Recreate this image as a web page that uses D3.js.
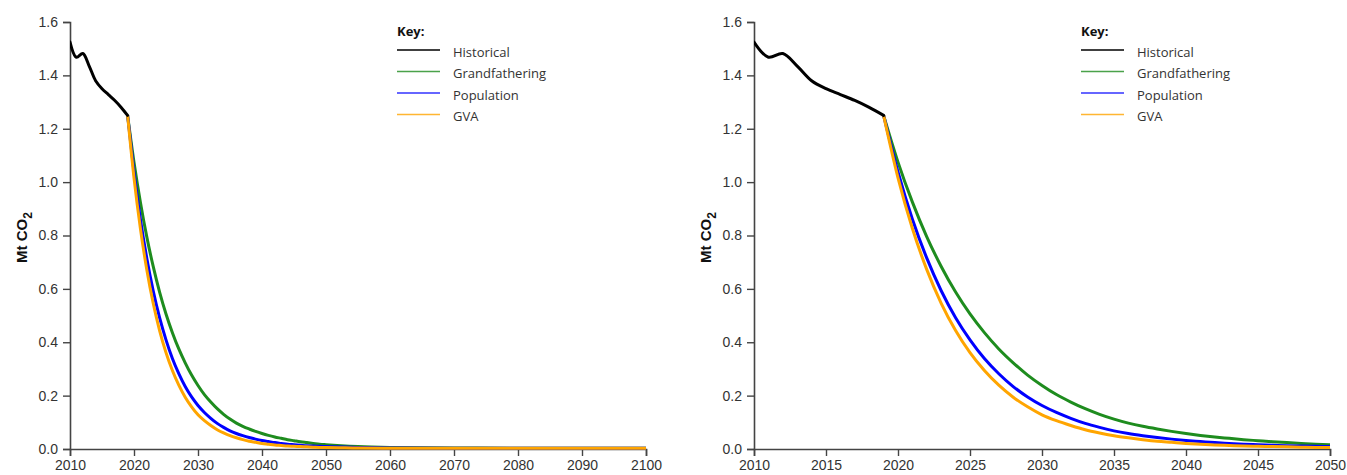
<!DOCTYPE html>
<html>
<head>
<meta charset="utf-8">
<script src="https://cdn.jsdelivr.net/npm/d3@7/dist/d3.min.js"></script>
<style>
  html, body { margin: 0; padding: 0; background: #fff; }
  svg { display: block; }
</style>
</head>
<body>
<svg id="chart" width="1347" height="475"></svg>
<script>
// ---- Data ----
const histYears = [2010, 2011, 2012, 2013, 2014, 2015, 2016, 2017, 2018, 2019];
const histValues = [1.525, 1.468, 1.482, 1.435, 1.38, 1.35, 1.328, 1.306, 1.28, 1.25];

const projYears = [2019, 2020, 2021, 2022, 2023, 2024, 2025, 2026, 2027, 2028, 2029,
  2030, 2031, 2032, 2033, 2034, 2035, 2036, 2037, 2038, 2039,
  2040, 2041, 2042, 2043, 2044, 2045, 2046, 2047, 2048, 2049, 2050,
  2055, 2060, 2070, 2080, 2090, 2100];

const grandfathering = [1.25, 1.075, 0.925, 0.795, 0.684, 0.588, 0.506, 0.436, 0.375, 0.323, 0.277,
  0.238, 0.204, 0.176, 0.151, 0.130, 0.112, 0.097, 0.085, 0.075, 0.066,
  0.058, 0.051, 0.045, 0.040, 0.035, 0.031, 0.027, 0.024, 0.021, 0.018, 0.016,
  0.009, 0.006, 0.004, 0.003, 0.003, 0.003];

const population = [1.25, 1.038, 0.861, 0.715, 0.593, 0.492, 0.409, 0.339, 0.282, 0.234, 0.195,
  0.163, 0.137, 0.115, 0.096, 0.081, 0.068, 0.058, 0.050, 0.043, 0.037,
  0.032, 0.028, 0.024, 0.021, 0.018, 0.016, 0.014, 0.012, 0.011, 0.010, 0.009,
  0.006, 0.004, 0.003, 0.003, 0.003, 0.003];

const gva = [1.25, 1.016, 0.826, 0.672, 0.546, 0.444, 0.361, 0.294, 0.239, 0.194, 0.158,
  0.128, 0.106, 0.088, 0.072, 0.060, 0.050, 0.042, 0.035, 0.029, 0.025,
  0.021, 0.018, 0.015, 0.013, 0.011, 0.010, 0.009, 0.008, 0.007, 0.006, 0.006,
  0.004, 0.003, 0.003, 0.003, 0.003, 0.003];

const yTicks = [0.0, 0.2, 0.4, 0.6, 0.8, 1.0, 1.2, 1.4, 1.6];
const leftXTicks = [2010, 2020, 2030, 2040, 2050, 2060, 2070, 2080, 2090, 2100];
const rightXTicks = [2010, 2015, 2020, 2025, 2030, 2035, 2040, 2045, 2050];

const seriesNames = ["Historical", "Grandfathering", "Population", "GVA"];
const seriesColors = ["#000000", "#1e8c1e", "#0000ff", "#ffa500"];

// ---- Drawing ----
const svg = d3.select("#chart");
const axisColor = "#444";
const textColor = "#333";

function drawPanel(x0, x1, xDomain, xTicks) {
  const y0 = 449, y1 = 22;
  const g = svg.append("g");
  const x = d3.scaleLinear().domain(xDomain).range([x0, x1]);
  const y = d3.scaleLinear().domain([0, 1.6]).range([y0, y1]);

  const yAxis = g.append("g")
    .attr("transform", `translate(${x0},0)`)
    .call(d3.axisLeft(y).tickValues(yTicks).tickFormat(d3.format(".1f")).tickSize(7).tickPadding(5));
  const xAxis = g.append("g")
    .attr("transform", `translate(0,${y0})`)
    .call(d3.axisBottom(x).tickValues(xTicks).tickFormat(d3.format("d")).tickSize(7).tickPadding(4).tickSizeOuter(7));
  [yAxis, xAxis].forEach(a => {
    a.select(".domain").attr("stroke", axisColor).attr("stroke-width", 1.6);
    a.selectAll(".tick line").attr("stroke", axisColor).attr("stroke-width", 1.4);
    a.selectAll(".tick text").attr("fill", textColor)
      .style("font-family", "'Liberation Sans', Arial, sans-serif").style("font-size", "14px");
  });

  const lab = g.append("text")
    .attr("transform", `translate(${x0 - 43},${(y0 + y1) / 2 + 2}) rotate(-90)`)
    .attr("text-anchor", "middle")
    .style("font-family", "'Liberation Sans', Arial, sans-serif")
    .style("font-weight", "bold")
    .style("font-size", "15px")
    .attr("fill", "#111");
  lab.append("tspan").text("Mt CO");
  lab.append("tspan").text("2").attr("dy", 5).style("font-size", "12px");

  const clipId = "clip" + x0;
  svg.append("clipPath").attr("id", clipId).append("rect")
    .attr("x", x0).attr("y", 0).attr("width", x1 - x0 + 2).attr("height", y0 + 2);

  const lineG = g.append("g").attr("clip-path", `url(#${clipId})`);
  const histLine = d3.line().x((d, i) => x(histYears[i])).y(d => y(d)).curve(d3.curveCatmullRom.alpha(0.5));

  const proj = [grandfathering, population, gva];
  proj.forEach((vals, k) => {
    const idx = projYears.map((yr, i) => i).filter(i => projYears[i] <= xDomain[1]);
    const line = d3.line().x(i => x(projYears[i])).y(i => y(vals[i])).curve(d3.curveMonotoneX);
    lineG.append("path").datum(idx)
      .attr("d", line)
      .attr("fill", "none")
      .attr("stroke", seriesColors[k + 1])
      .attr("stroke-width", 3)
      .attr("stroke-linejoin", "round");
  });
  lineG.append("path").datum(histValues)
    .attr("d", histLine)
    .attr("fill", "none")
    .attr("stroke", seriesColors[0])
    .attr("stroke-width", 3)
    .attr("stroke-linecap", "round");

  const lx = x0 + 327;
  const leg = g.append("g");
  leg.append("text").attr("x", lx).attr("y", 36).text("Key:")
    .style("font-family", "'Open Sans', sans-serif").style("font-weight", "bold")
    .style("font-size", "13px").attr("fill", "#111");
  seriesNames.forEach((name, i) => {
    const ly = 50 + i * 21.5;
    leg.append("line").attr("x1", lx).attr("x2", lx + 43).attr("y1", ly).attr("y2", ly)
      .attr("stroke", seriesColors[i]).attr("stroke-width", 1.3).attr("opacity", i === 0 ? 1 : 0.8);
    leg.append("text").attr("x", lx + 56).attr("y", ly + 6.5).text(name)
      .style("font-family", "'Open Sans', sans-serif").style("font-size", "13px").attr("fill", "#333");
  });
}

drawPanel(70, 646, [2010, 2100], leftXTicks);
drawPanel(754, 1330, [2010, 2050], rightXTicks);
</script>
</body>
</html>
